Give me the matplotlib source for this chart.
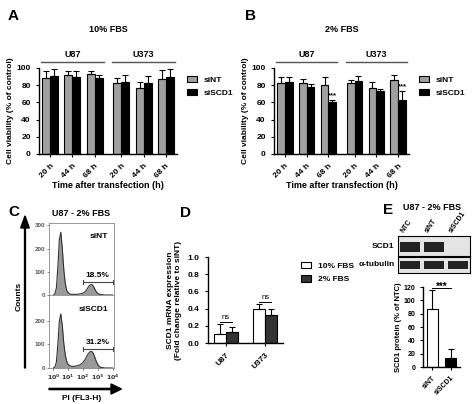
import matplotlib.pyplot as plt
import numpy as np
from matplotlib.patches import Rectangle, FancyArrow

plt.rcParams['font.family'] = ['Liberation Sans', 'DejaVu Sans']
plt.rcParams['font.weight'] = 'bold'
plt.rcParams['axes.linewidth'] = 1.0

W, H = 474, 404
fig = plt.figure(figsize=(W / 100, H / 100), dpi=100)

def ax_px(l, t, r, b):
    return fig.add_axes([l / W, 1 - b / H, (r - l) / W, (b - t) / H])

# ---- data ----
times = ["20 h", "44 h", "68 h"]
cells = ["U87", "U373"]
a_sint = [88, 92, 93, 82, 77, 87]
a_sint_err = [8, 5, 3, 6, 7, 11]
a_siscd = [91, 90, 88, 84, 83, 90]
a_siscd_err = [8, 6, 4, 8, 8, 9]
b_sint = [82, 83, 80, 83, 77, 86]
b_sint_err = [7, 4, 9, 3, 7, 6]
b_siscd = [84, 78, 60, 85, 73, 63]
b_siscd_err = [6, 3, 3, 6, 3, 10]
b_stars = [False, False, True, False, False, True]

hist_x = np.round(np.arange(0, 4.01, 0.1), 1)
hist_sint = [0, 5, 30, 120, 240, 270, 200, 110, 50, 20, 10, 5, 3, 3, 3, 3, 3, 4, 5, 6, 8,
             12, 18, 28, 38, 44, 45, 38, 26, 14, 7, 3, 2, 1, 1, 0, 0, 0, 0, 0, 0]
hist_siscd = [0, 4, 25, 100, 200, 230, 180, 105, 55, 28, 15, 10, 8, 7, 7, 8, 9, 11, 14, 18, 24,
              32, 42, 55, 64, 70, 70, 62, 46, 28, 15, 7, 3, 2, 1, 0, 0, 0, 0, 0, 0]
gate_pct = ["18.5%", "31.2%"]

d_cells = ["U87", "U373"]
d_10 = [0.11, 0.40]
d_10_err = [0.11, 0.05]
d_2 = [0.13, 0.32]
d_2_err = [0.06, 0.07]

e_labels = ["siNT", "siSCD1"]
e_vals = [87, 13]
e_err = [28, 14]

# ---- panels A and B ----
pos = np.array([0, 1, 2, 3.2, 4.2, 5.2])
bw = 0.36

def viability(ax, nt, nterr, sc, scerr, title, stars=None):
    ax.bar(pos - bw / 2, nt, bw, color='#a0a0a0', edgecolor='black', lw=0.8,
           yerr=[[0] * 6, nterr], error_kw=dict(lw=0.8, capsize=2.5, capthick=0.8), label='siNT')
    ax.bar(pos + bw / 2, sc, bw, color='black', edgecolor='black', lw=0.8,
           yerr=[[0] * 6, scerr], error_kw=dict(lw=0.8, capsize=2.5, capthick=0.8), label='siSCD1')
    ax.set_xlim(-0.5, 5.7)
    ax.set_ylim(0, 100)
    ax.set_yticks(range(0, 101, 20))
    ax.set_xticks(pos)
    ax.set_xticklabels(times * 2, rotation=45, ha='right', rotation_mode='anchor')
    ax.tick_params(labelsize=6, length=2.5, width=0.8)
    for s in ['top', 'right']:
        ax.spines[s].set_visible(False)
    ax.set_ylabel('Cell viability (% of control)', fontsize=6, fontweight='bold', labelpad=2)
    ax.set_xlabel('Time after transfection (h)', fontsize=6.5, fontweight='bold', labelpad=1)
    for i, c in enumerate(cells):
        g = pos[3 * i:3 * i + 3]
        ax.plot([g[0] - 0.4, g[-1] + 0.4], [107, 107], color='#555555', lw=1, clip_on=False)
        ax.text(g[1], 110, c, ha='center', va='bottom', fontsize=6.5)
    ax.text(2.6, 140, title, ha='center', va='bottom', fontsize=6.5)
    if stars:
        for p, v, e, s in zip(pos, sc, scerr, stars):
            if s:
                ax.text(p + bw / 2, v + e + 1, '***', ha='center', va='bottom', fontsize=5.5)
    ax.legend(loc='upper left', bbox_to_anchor=(1.05, 0.95), frameon=False, fontsize=6,
              handlelength=1.2, handleheight=0.8, borderaxespad=0, labelspacing=0.6)

axA = ax_px(39, 68, 177, 154)
viability(axA, a_sint, a_sint_err, a_siscd, a_siscd_err, '10% FBS')
axB = ax_px(274, 68, 409, 154)
viability(axB, b_sint, b_sint_err, b_siscd, b_siscd_err, '2% FBS', b_stars)

# ---- panel C ----
for k, (top, bot, counts, name, pct) in enumerate(
        [(223, 295, hist_sint, 'siNT', gate_pct[0]), (295, 368, hist_siscd, 'siSCD1', gate_pct[1])]):
    ax = ax_px(49, top, 114, bot)
    ax.fill_between(hist_x, counts, color='#999999', lw=0)
    ax.plot(hist_x, counts, color='#333333', lw=0.8)
    ax.set_xlim(-0.3, 4.1)
    ax.set_ylim(0, 310)
    ax.set_yticks([0, 100, 200, 300] if k == 0 else [0, 100, 200])
    ax.tick_params(labelsize=4.5, length=1.5, width=0.5, colors='#555555', pad=1)
    for s in ax.spines.values():
        s.set_color('#888888'); s.set_linewidth(0.6)
    gy = max(counts[20:36]) + 12
    ax.plot([2, 4], [gy, gy], color='#444444', lw=0.8)
    ax.plot([2, 2], [gy - 8, gy + 8], color='#444444', lw=0.8)
    ax.plot([4, 4], [gy - 8, gy + 8], color='#444444', lw=0.8)
    ax.text(3, gy + 10, pct, ha='center', va='bottom', fontsize=6)
    ax.text(3.7, 265, name, ha='right', va='top', fontsize=6)
    if k == 0:
        ax.set_xticks([])
    else:
        ax.set_xticks([0, 1, 2, 3, 4])
        ax.set_xticklabels(['$10^0$', '$10^1$', '$10^2$', '$10^3$', '$10^4$'])
        ax.tick_params(axis='x', labelsize=4.5, colors='#333333', pad=2)
fig.text(81 / W, 1 - 214 / H, 'U87 - 2% FBS', ha='center', va='center', fontsize=6.5)
fig.patches.append(FancyArrow(25 / W, 1 - 368 / H, 0, 140 / H, width=0.002, head_width=0.018,
                              head_length=0.03, color='black', transform=fig.transFigure))
fig.text(19 / W, 1 - 296 / H, 'Counts', rotation=90, ha='center', va='center', fontsize=6)
fig.patches.append(FancyArrow(49 / W, 1 - 389 / H, 62 / W, 0, width=0.003, head_width=0.025,
                              head_length=0.022, color='black', transform=fig.transFigure))
fig.text(82 / W, 1 - 399 / H, 'PI (FL3-H)', ha='center', va='center', fontsize=6)

# ---- panel D ----
axD = ax_px(208, 257, 283, 343)
dp = np.array([0, 1])
dw = 0.3
axD.bar(dp - dw / 2, d_10, dw, color='white', edgecolor='black', lw=0.8,
        yerr=[[0, 0], d_10_err], error_kw=dict(lw=0.8, capsize=2.5, capthick=0.8), label='10% FBS')
axD.bar(dp + dw / 2, d_2, dw, color='#333333', edgecolor='black', lw=0.8,
        yerr=[[0, 0], d_2_err], error_kw=dict(lw=0.8, capsize=2.5, capthick=0.8), label='2% FBS')
for p, a, ae, b, be in zip(dp, d_10, d_10_err, d_2, d_2_err):
    y = max(a + ae, b + be) + 0.03
    axD.plot([p - dw / 2, p + dw / 2], [y, y], color='black', lw=0.7)
    axD.text(p, y + 0.005, 'ns', ha='center', va='bottom', fontsize=5.5, fontweight='normal')
axD.set_xlim(-0.45, 1.45)
axD.set_ylim(0, 1.0)
axD.set_yticks(np.arange(0, 1.01, 0.2))
axD.set_xticks(dp)
axD.set_xticklabels(d_cells, rotation=45, ha='right', rotation_mode='anchor')
axD.tick_params(labelsize=6, length=2.5, width=0.8)
for s in ['top', 'right']:
    axD.spines[s].set_visible(False)
axD.set_ylabel('SCD1 mRNA expression\n(Fold change relative to siNT)', fontsize=6, fontweight='bold')
axD.legend(loc='upper left', bbox_to_anchor=(1.2, 0.98), frameon=False, fontsize=6,
           handlelength=1.2, handleheight=0.8, borderaxespad=0, labelspacing=0.6)

# ---- panel E ----
fig.text(432 / W, 1 - 208 / H, 'U87 - 2% FBS', ha='center', va='center', fontsize=6.5)
for j, (t, b) in enumerate([(236, 256), (257, 273)]):
    bl = ax_px(398, t, 470, b)
    bl.set_xlim(0, 3); bl.set_ylim(0, 1)
    bl.set_xticks([]); bl.set_yticks([])
    bl.set_facecolor('#e4e4e4')
    for s in bl.spines.values():
        s.set_linewidth(0.8)
    lanes = [1, 1, 0] if j == 0 else [1, 1, 1]
    for i, on in enumerate(lanes):
        if on:
            bl.add_patch(Rectangle((i + 0.08, 0.22), 0.84, 0.5, color='#222222', lw=0))
    bl.text(-0.05, 0.5, ['SCD1', 'α-tubulin'][j], transform=bl.transAxes,
            ha='right', va='center', fontsize=6)
    if j == 0:
        for i, lab in enumerate(['NTC', 'siNT', 'siSCD1']):
            bl.text(i + 0.3, 1.08, lab, rotation=55, ha='left', va='bottom',
                    rotation_mode='anchor', fontsize=5)

axE = ax_px(423, 287, 460, 367)
ep = np.array([0, 1])
axE.bar(ep, e_vals, 0.6, color=['white', 'black'], edgecolor='black', lw=0.8,
        yerr=[[0, 0], e_err], error_kw=dict(lw=0.8, capsize=2.5, capthick=0.8))
axE.plot([0, 1], [118, 118], color='black', lw=0.7)
axE.text(0.5, 112, '***', ha='center', va='bottom', fontsize=7)
axE.set_xlim(-0.5, 1.5)
axE.set_ylim(0, 120)
axE.set_yticks(range(0, 121, 20))
axE.set_xticks(ep)
axE.set_xticklabels(e_labels, rotation=45, ha='right', rotation_mode='anchor')
axE.tick_params(labelsize=5, length=2, width=0.8)
for s in ['top', 'right']:
    axE.spines[s].set_visible(False)
axE.set_ylabel('SCD1 protein (% of NTC)', fontsize=5.5, fontweight='bold', labelpad=1)

# ---- panel letters ----
for lab, x, y in [('A', 8, 16), ('B', 245, 16), ('C', 8, 212), ('D', 180, 213), ('E', 383, 210)]:
    fig.text(x / W, 1 - y / H, lab, fontsize=11, fontweight='bold', ha='left', va='center')

fig.savefig('out.png', dpi=100)
